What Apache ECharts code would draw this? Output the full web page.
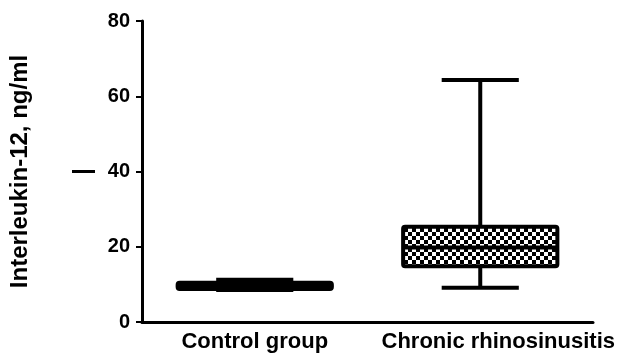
<!DOCTYPE html>
<html>
<head>
<meta charset="utf-8">
<script src="https://cdn.jsdelivr.net/npm/echarts@6/dist/echarts.min.js"></script>
<style>
  html, body { margin: 0; padding: 0; background: #fff; }
  #chart { width: 622px; height: 358px; }
</style>
</head>
<body>
<div id="chart"></div>
<script>
// box plot values (ng/ml)
const categories = ['Control group', 'Chronic rhinosinusitis'];
const minValues = [8.5, 9.1];
const q1Values = [8.8, 14.8];
const medianValues = [9.6, 19.8];
const q3Values = [10.4, 25.3];
const maxValues = [11.2, 64.3];
const yMin = 0;
const yMax = 80;
const yInterval = 20;

const font = 'Liberation Sans, Arial, Helvetica, sans-serif';

// checkerboard fill for the boxes
function makePattern() {
  const c = document.createElement('canvas');
  c.width = 8;
  c.height = 8;
  const ctx = c.getContext('2d');
  ctx.fillStyle = '#fff';
  ctx.fillRect(0, 0, 8, 8);
  ctx.fillStyle = '#000';
  ctx.fillRect(0, 0, 4, 4);
  ctx.fillRect(4, 4, 4, 4);
  return c;
}
const pattern = { image: makePattern(), repeat: 'repeat' };

const boxData = categories.map(function (c, i) {
  return [i, minValues[i], q1Values[i], medianValues[i], q3Values[i], maxValues[i]];
});

function renderBox(params, api) {
  const idx = api.value(0);
  const cx = api.coord([idx, 0])[0];
  const band = api.size([1, 0])[0];
  const half = band * 0.342;
  const capHalf = half / 2;
  const yLo = api.coord([idx, api.value(1)])[1];
  const yQ1 = api.coord([idx, api.value(2)])[1];
  const yMed = api.coord([idx, api.value(3)])[1];
  const yQ3 = api.coord([idx, api.value(4)])[1];
  const yHi = api.coord([idx, api.value(5)])[1];
  const lineStyle = { stroke: '#000', lineWidth: 4, lineCap: 'butt' };
  return {
    type: 'group',
    children: [
      { type: 'line', shape: { x1: cx, y1: yQ3, x2: cx, y2: yHi }, style: lineStyle },
      { type: 'line', shape: { x1: cx, y1: yQ1, x2: cx, y2: yLo }, style: lineStyle },
      { type: 'line', shape: { x1: cx - capHalf, y1: yHi, x2: cx + capHalf, y2: yHi }, style: lineStyle },
      { type: 'line', shape: { x1: cx - capHalf, y1: yLo, x2: cx + capHalf, y2: yLo }, style: lineStyle },
      {
        type: 'rect',
        shape: { x: cx - half, y: yQ3, width: half * 2, height: yQ1 - yQ3, r: 2 },
        style: { fill: pattern, stroke: '#000', lineWidth: 4, lineJoin: 'round' }
      },
      { type: 'line', shape: { x1: cx - half, y1: yMed, x2: cx + half, y2: yMed }, style: lineStyle }
    ]
  };
}

const chart = echarts.init(document.getElementById('chart'));
const option = {
  backgroundColor: '#fff',
  animation: false,
  grid: { left: 141, right: 29, top: 21, bottom: 36 },
  xAxis: {
    type: 'category',
    data: categories,
    boundaryGap: true,
    axisLine: { lineStyle: { color: '#000', width: 3 } },
    axisTick: { alignWithLabel: true, length: 6, lineStyle: { color: '#000', width: 3 } },
    axisLabel: {
      color: '#000',
      fontFamily: font,
      fontWeight: 'bold',
      fontSize: 22,
      margin: 9,
      interval: 0,
      formatter: function (v, i) {
        return i === 1 ? '{s|' + v + '}' : v;
      },
      rich: {
        s: { color: '#000', fontFamily: font, fontWeight: 'bold', fontSize: 22, padding: [0, 0, 0, 36] }
      }
    },
    splitLine: { show: false }
  },
  yAxis: {
    type: 'value',
    min: yMin,
    max: yMax,
    interval: yInterval,
    name: 'Interleukin-12, ng/ml',
    nameLocation: 'middle',
    nameGap: 110,
    nameTextStyle: { color: '#000', fontFamily: font, fontWeight: 'bold', fontSize: 24 },
    axisLine: { show: true, lineStyle: { color: '#000', width: 3 } },
    axisTick: { show: true, length: 6, lineStyle: { color: '#000', width: 2 } },
    axisLabel: { color: '#000', fontFamily: font, fontWeight: 'bold', fontSize: 20, margin: 12 },
    splitLine: { show: false }
  },
  series: [
    {
      type: 'custom',
      renderItem: renderBox,
      encode: { x: 0, y: [1, 2, 3, 4, 5] },
      data: boxData
    }
  ]
};
chart.setOption(option);

// short stray dash left of the "40" label
const y40 = chart.convertToPixel({ yAxisIndex: 0 }, 40);
chart.setOption({
  graphic: [
    { type: 'line', shape: { x1: 72, y1: y40, x2: 95, y2: y40 }, style: { stroke: '#000', lineWidth: 3 } }
  ]
});
</script>
</body>
</html>
